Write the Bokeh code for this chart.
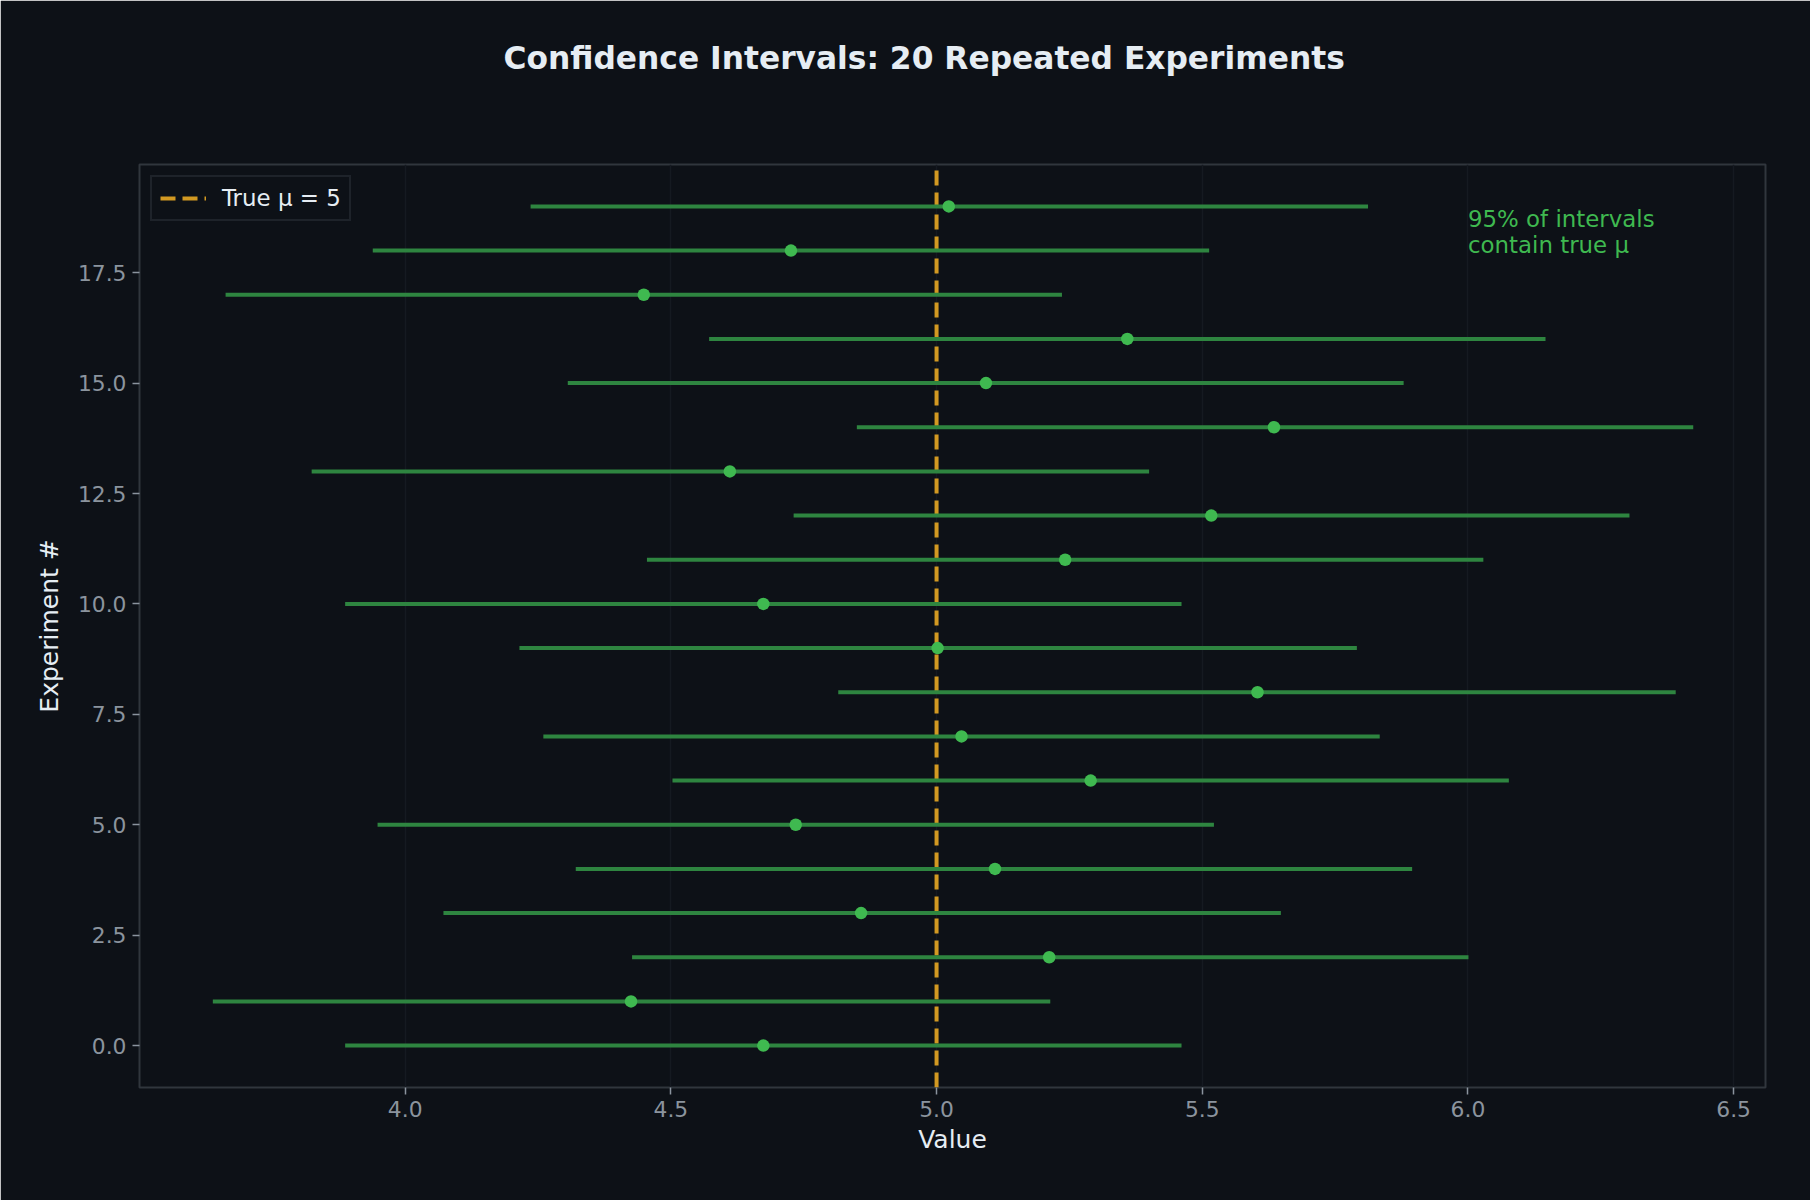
from bokeh.plotting import figure
from bokeh.models import FixedTicker, PrintfTickFormatter, Range1d, Legend, LegendItem, Title
from bokeh.embed import file_html
from bokeh.resources import INLINE
from bokeh.core.properties import value

# ---- data ----
experiments = list(range(20))
means = [4.674, 4.425, 5.212, 4.858, 5.110, 4.735, 5.290, 5.047, 5.604, 5.002,
         4.674, 5.242, 5.517, 4.611, 5.635, 5.093, 5.359, 4.449, 4.726, 5.023]
lower = [3.887, 3.638, 4.427, 4.072, 4.321, 3.948, 4.503, 4.260, 4.815, 4.215,
         3.887, 4.455, 4.731, 3.824, 4.850, 4.306, 4.572, 3.662, 3.939, 4.236]
upper = [5.461, 5.214, 6.001, 5.648, 5.895, 5.522, 6.077, 5.834, 6.391, 5.791,
         5.461, 6.029, 6.304, 5.400, 6.424, 5.879, 6.146, 5.236, 5.513, 5.812]
true_mu = 5.0
x_ticks = [4.0, 4.5, 5.0, 5.5, 6.0, 6.5]
y_ticks = [0.0, 2.5, 5.0, 7.5, 10.0, 12.5, 15.0, 17.5]
title_text = "Confidence Intervals: 20 Repeated Experiments"
legend_text = "True μ = 5"
note_text = "95% of intervals\ncontain true μ"

BG = "#0d1117"
FONT = "DejaVu Sans"

x_lo, x_hi = 3.50, 6.56
y_lo, y_hi = -0.95, 19.95

p = figure(width=1810, height=1200, output_backend="svg", toolbar_location=None,
           title_location=None,
           x_range=Range1d(x_lo, x_hi), y_range=Range1d(y_lo, y_hi),
           min_border_left=139, min_border_right=45, min_border_top=164, min_border_bottom=113)
p.background_fill_color = BG
p.border_fill_color = BG
p.outline_line_color = "#30363d"
p.outline_line_width = 2

# spacer between title and frame (added first -> closest to the frame)
p.add_layout(Title(text=" ", text_font_size="10px", standoff=41, text_color=BG), "above")
# main title
p.add_layout(Title(text=title_text, text_font=FONT, text_font_size="31.3px",
                   text_font_style="bold", text_color="#e6edf3",
                   align="left", offset=364, standoff=69), "above")

# axes
for ax in (p.xaxis[0], p.yaxis[0]):
    ax.axis_line_color = None
    ax.major_tick_line_color = "#8b949e"
    ax.major_tick_line_width = 1.5
    ax.major_tick_out = 7
    ax.major_tick_in = 0
    ax.minor_tick_line_color = None
    ax.major_label_text_color = "#8b949e"
    ax.major_label_text_font = FONT
    ax.major_label_text_font_size = "21.8px"
    ax.axis_label_text_color = "#e6edf3"
    ax.axis_label_text_font = FONT
    ax.axis_label_text_font_size = "25px"
    ax.axis_label_text_font_style = "normal"
    ax.major_label_standoff = 6
    ax.formatter = PrintfTickFormatter(format="%.1f")

p.xaxis[0].ticker = FixedTicker(ticks=x_ticks)
p.yaxis[0].ticker = FixedTicker(ticks=y_ticks)
p.xaxis[0].axis_label = "Value"
p.yaxis[0].axis_label = "Experiment #"
p.xaxis[0].axis_label_standoff = 5
p.yaxis[0].axis_label_standoff = 11

p.xgrid.ticker = FixedTicker(ticks=x_ticks)
p.ygrid.grid_line_color = None
p.xgrid.grid_line_color = "#151a21"
p.xgrid.grid_line_width = 1.5

# true mean dashed line
mu_line = p.line(x=[true_mu, true_mu], y=[y_lo, y_hi], line_color="#d29922",
                 line_width=4, line_dash="15 7")

# intervals and means
p.segment(x0=lower, x1=upper, y0=experiments, y1=experiments,
          line_color="#2e8540", line_width=4)
p.scatter(x=means, y=experiments, size=12.5, fill_color="#3fb950", line_color=None)

# annotation
p.text(x=[6.0], y=[19.02], text=[note_text], text_baseline="top", text_align="left",
       text_font=value(FONT), text_font_size="22.9px", text_color="#3fb950",
       text_line_height=1.03)

legend = Legend(items=[LegendItem(label=legend_text, renderers=[mu_line])],
                location="top_left")
legend.margin = 11
legend.padding = 8
legend.glyph_width = 46
legend.glyph_height = 22
legend.label_standoff = 16
legend.label_text_font = FONT
legend.label_text_font_size = "22.9px"
legend.label_text_color = "#e6edf3"
legend.background_fill_color = BG
legend.background_fill_alpha = 1.0
legend.border_line_color = "#30363d"
legend.border_line_width = 2
p.add_layout(legend, "center")

open("out.html", "w").write(file_html(p, INLINE))
